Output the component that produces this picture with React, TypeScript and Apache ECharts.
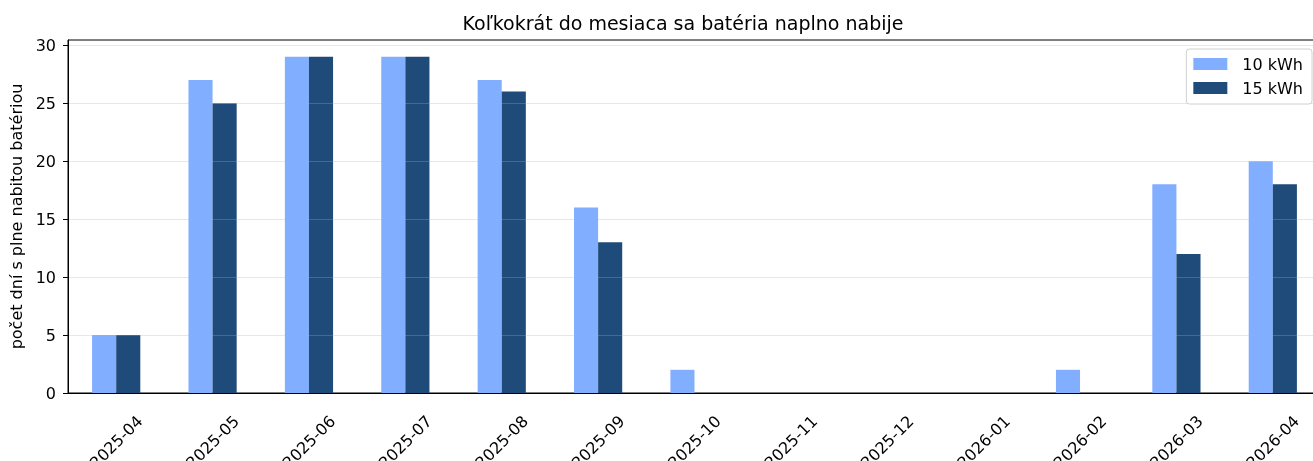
import React, { useEffect, useRef } from "react";
import * as echarts from "echarts";

const categories = ["2025-04", "2025-05", "2025-06", "2025-07", "2025-08", "2025-09", "2025-10", "2025-11", "2025-12", "2026-01", "2026-02", "2026-03", "2026-04"];
const series10 = [5, 27, 29, 29, 27, 16, 2, 0, 0, 0, 2, 18, 20];
const series15 = [5, 25, 29, 29, 26, 13, 0, 0, 0, 0, 0, 12, 18];
const yTicks = [0, 5, 10, 15, 20, 25, 30];

const FONT = "DejaVu Sans";

export default function App() {
  const ref = useRef<HTMLDivElement>(null);
  useEffect(() => {
    const chart = echarts.init(ref.current!, null, { renderer: "svg" });
    chart.setOption({
      animation: false,
      textStyle: { fontFamily: FONT },
      title: {
        text: "Koľkokrát do mesiaca sa batéria naplno nabije",
        left: 678,
        textAlign: "center",
        top: 8,
        textStyle: { fontFamily: FONT, fontSize: 19, fontWeight: "normal", color: "#000" },
      },
      legend: {
        orient: "vertical",
        right: 1,
        top: 49,
        z: 10,
        icon: "rect",
        itemWidth: 34,
        itemHeight: 12,
        itemGap: 8,
        padding: [7, 9, 8, 7],
        borderColor: "#d0d0d0",
        borderWidth: 1,
        borderRadius: 3,
        backgroundColor: "#fff",
        textStyle: { fontFamily: FONT, fontSize: 16, color: "#000", padding: [0, 0, 0, 10] },
        data: ["10 kWh", "15 kWh"],
      },
      grid: {
        left: 68,
        right: -8,
        top: 40,
        bottom: 68,
        show: true,
        borderColor: "#000",
        borderWidth: 1,
        containLabel: false,
        outerBoundsMode: "none",
      },
      xAxis: {
        type: "category",
        data: categories,
        z: 4,
        axisLine: { lineStyle: { color: "#000", width: 1 } },
        axisTick: { alignWithLabel: true, length: 5, lineStyle: { color: "#000" } },
        axisLabel: {
          rotate: 45,
          align: "center",
          verticalAlign: "middle",
          margin: 49,
          fontFamily: FONT,
          fontSize: 16,
          color: "#000",
        },
      },
      yAxis: {
        type: "value",
        min: 0,
        max: 30.45,
        interval: 5,
        z: 3,
        name: "počet dní s plne nabitou batériou",
        nameLocation: "middle",
        nameGap: 44,
        nameTextStyle: { fontFamily: FONT, fontSize: 16, color: "#000" },
        axisLine: { show: true, lineStyle: { color: "#000", width: 1 } },
        axisTick: { show: true, length: 5, lineStyle: { color: "#000" }, customValues: yTicks },
        axisLabel: { fontFamily: FONT, fontSize: 16, color: "#000", margin: 12, customValues: yTicks },
        splitLine: { show: true, lineStyle: { color: "rgba(176,176,176,0.3)", width: 1 } },
      },
      series: [
        {
          name: "10 kWh",
          type: "bar",
          data: series10,
          barWidth: "25%",
          barGap: "0%",
          itemStyle: { color: "#82aeff" },
        },
        {
          name: "15 kWh",
          type: "bar",
          data: series15,
          barWidth: "25%",
          barGap: "0%",
          itemStyle: { color: "#1f4b7a" },
        },
      ],
    });
    return () => chart.dispose();
  }, []);
  return <div ref={ref} style={{ position: "fixed", left: 0, top: 0, width: 1313, height: 461 }} />;
}
